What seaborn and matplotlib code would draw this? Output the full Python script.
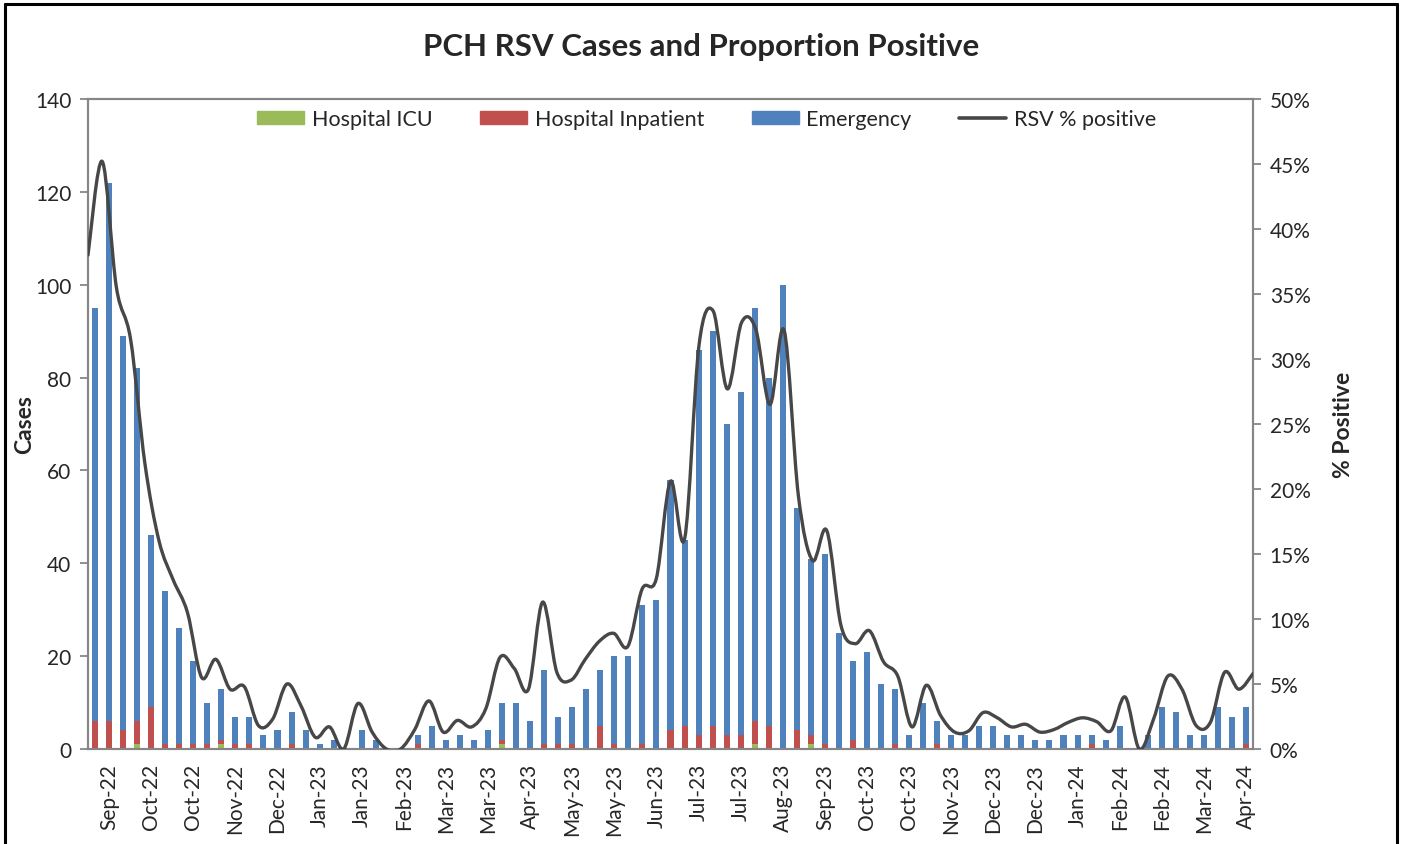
import numpy as np
import matplotlib
matplotlib.use("Agg")
import matplotlib.pyplot as plt
import seaborn as sns
from matplotlib.path import Path
from matplotlib.patches import PathPatch, Patch
from matplotlib.lines import Line2D
from matplotlib.ticker import FuncFormatter

sns.set_style("white")
plt.rcParams["font.family"] = ["Lato", "DejaVu Sans"]

# ---- data (weekly, Sep-22 .. Apr-24) ----
total_cases = [95, 122, 89, 82, 46, 34, 26, 19, 10, 13, 7, 7, 3, 4, 8, 4, 1, 2, 0, 4,
               2, 0, 0, 3, 5, 2, 3, 2, 4, 10, 10, 6, 17, 7, 9, 13, 17, 20, 20, 31,
               32, 58, 45, 86, 90, 70, 77, 95, 80, 100, 52, 41, 42, 25, 19, 21, 14, 13, 3, 10,
               6, 3, 3, 5, 5, 3, 3, 2, 2, 3, 3, 3, 2, 5, 0, 3, 9, 8, 3, 3,
               9, 7, 9]
icu = [0, 0, 0, 1, 0, 0, 0, 0, 0, 1, 0, 0, 0, 0, 0, 0, 0, 0, 0, 0,
       0, 0, 0, 0, 0, 0, 0, 0, 0, 1, 0, 0, 0, 0, 0, 0, 0, 0, 0, 0,
       0, 0, 0, 0, 0, 0, 0, 1, 0, 0, 0, 1, 0, 0, 0, 0, 0, 0, 0, 0,
       0, 0, 0, 0, 0, 0, 0, 0, 0, 0, 0, 0, 0, 0, 0, 0, 0, 0, 0, 0,
       0, 0, 0]
inpatient = [6, 6, 4, 5, 9, 1, 1, 1, 1, 1, 1, 1, 0, 0, 1, 0, 0, 0, 0, 0,
             0, 0, 0, 1, 0, 0, 0, 0, 0, 1, 0, 0, 1, 1, 1, 0, 5, 1, 0, 1,
             0, 4, 5, 3, 5, 3, 3, 5, 5, 0, 4, 2, 1, 0, 2, 0, 0, 1, 0, 0,
             1, 0, 0, 0, 0, 0, 0, 0, 0, 0, 0, 1, 0, 0, 0, 0, 0, 0, 0, 0,
             0, 0, 1]
rsv_pct = [38, 45.2, 35.5, 31.5, 22, 16, 13, 10.5, 5.5, 6.9,
           4.6, 4.8, 1.8, 2.3, 5.0, 3.3, 0.9, 1.7, 0, 3.5,
           1.3, 0, 0, 1.5, 3.7, 1.3, 2.2, 1.7, 3.1, 7.05,
           6.2, 4.6, 11.3, 5.9, 5.3, 6.9, 8.3, 8.9, 7.9, 12.3,
           13.1, 20.6, 16.2, 31.0, 33.7, 27.7, 32.8, 32.3, 26.5, 32.2,
           19.5, 14.5, 16.8, 9.5, 8.1, 9.1, 6.7, 5.6, 1.7, 4.9,
           2.6, 1.3, 1.4, 2.8, 2.4, 1.7, 1.9, 1.3, 1.5, 2.05,
           2.4, 2.1, 1.4, 4.0, 0, 2.3, 5.6, 4.6, 1.8, 2.05,
           5.9, 4.6, 5.8]
week_labels = ["Sep-22", "Oct-22", "Oct-22", "Nov-22", "Dec-22", "Jan-23", "Jan-23",
               "Feb-23", "Mar-23", "Mar-23", "Apr-23", "May-23", "May-23", "Jun-23",
               "Jul-23", "Jul-23", "Aug-23", "Sep-23", "Oct-23", "Oct-23", "Nov-23",
               "Dec-23", "Dec-23", "Jan-24", "Feb-24", "Feb-24", "Mar-24", "Apr-24"]

GREEN, RED, BLUE, LINE = "#9BBB59", "#C0504D", "#4F81BD", "#474747"
AXC = "#868686"

n = len(total_cases)
weeks = np.arange(n)
icu_a = np.array(icu)
inp_top = icu_a + np.array(inpatient)
tot = np.array(total_cases)

fig = plt.figure(figsize=(14.02, 8.45), dpi=100)
ax = fig.add_axes([88 / 1402, 1 - 750 / 845, (1253 - 88) / 1402, 650 / 845])

# stacked bars drawn as overlapping cumulative layers
bw = 0.43
sns.barplot(x=weeks, y=tot, color=BLUE, width=bw, saturation=1, ax=ax, linewidth=0)
sns.barplot(x=weeks, y=inp_top, color=RED, width=bw, saturation=1, ax=ax, linewidth=0)
sns.barplot(x=weeks, y=icu_a, color=GREEN, width=bw, saturation=1, ax=ax, linewidth=0)

ax.set_xlim(-0.5, n - 0.5)
ax.set_ylim(0, 140)
ax.set_yticks(range(0, 141, 20))
ax.set_xticks(np.arange(-0.5, n, 1.0))
ax.set_xticklabels([])
ax.set_xticks(np.arange(1, n, 3), week_labels, minor=True)
ax.tick_params(axis="x", which="major", length=6, width=1.3, color=AXC, direction="out")
ax.tick_params(axis="x", which="minor", length=0, pad=10, labelsize=15, rotation=90)
ax.tick_params(axis="y", length=6, width=1.3, color=AXC, labelsize=15, pad=6, left=True)
for s in ax.spines.values():
    s.set_color(AXC)
    s.set_linewidth(1.5)
ax.set_xlabel("")
ax.set_ylabel("Cases", fontsize=16.5, fontweight="bold")
ax.yaxis.set_label_coords(-0.045, 0.5)

# secondary axis: smoothed % positive line spanning tick marks
ax2 = ax.twinx()
ax2.set_ylim(0, 0.5)
ax2.set_yticks(np.arange(0, 0.51, 0.05))
ax2.yaxis.set_major_formatter(FuncFormatter(lambda v, p: f"{v * 100:.0f}%"))
ax2.tick_params(axis="y", length=6, width=1.3, color=AXC, labelsize=15, pad=6, right=True)
for s in ax2.spines.values():
    s.set_color(AXC)
    s.set_linewidth(1.5)
ax2.set_ylabel("% Positive", fontsize=16.5, fontweight="bold")
ax2.yaxis.set_label_coords(1.0685, 0.5)

px = -0.5 + weeks * n / (n - 1)
py = np.array(rsv_pct) / 100
P = np.column_stack([px, py])
Pe = np.vstack([P[0], P, P[-1]])
verts = [P[0]]
codes = [Path.MOVETO]
for i in range(n - 1):
    p0, p1, p2, p3 = Pe[i], Pe[i + 1], Pe[i + 2], Pe[i + 3]
    verts += [p1 + (p2 - p0) / 6, p2 - (p3 - p1) / 6, p2]
    codes += [Path.CURVE4] * 3
ax2.add_patch(PathPatch(Path(verts, codes), facecolor="none", edgecolor=LINE,
                        lw=2.4, capstyle="round", joinstyle="round", zorder=5))

handles = [Patch(color=GREEN, label="Hospital ICU"),
           Patch(color=RED, label="Hospital Inpatient"),
           Patch(color=BLUE, label="Emergency"),
           Line2D([], [], color=LINE, lw=2.6, label="RSV % positive")]
ax2.legend(handles=handles, loc="center", bbox_to_anchor=(0.531, 0.969), ncol=4,
           frameon=False, fontsize=15.5, handlelength=2.2, handleheight=0.55,
           columnspacing=2.2, handletextpad=0.35)

fig.text(0.5, 1 - 47 / 845, "PCH RSV Cases and Proportion Positive",
         ha="center", va="center", fontsize=22.5, fontweight="bold")

# outer chart frame (top, left, right)
for xs, ys in [((5, 1397), (5, 5)), ((5, 5), (5, 845)), ((1397, 1397), (5, 845))]:
    fig.add_artist(Line2D([x / 1402 for x in xs], [1 - y / 845 for y in ys],
                          color="black", lw=2.2))

fig.savefig("out.png", dpi=100)
